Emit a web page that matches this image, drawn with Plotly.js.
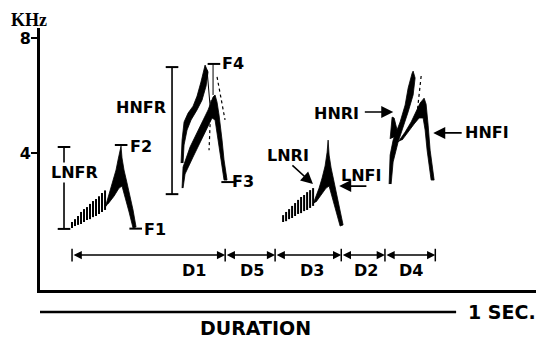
<!DOCTYPE html>
<html><head><meta charset="utf-8">
<script src="https://cdn.plot.ly/plotly-3.0.1.min.js"></script>
<style>html,body{margin:0;padding:0;background:#fff}#chart{width:536px;height:339px}</style>
</head><body><div id="chart"></div>
<script>
// time in ms, frequency in kHz
const yTickVals = [4, 8];
const yTickText = ['4', '8'];
const scaleBarT = [0, 1000];

// duration intervals
const durBounds = [77, 445, 565, 724, 829, 950];
const durNames = ['D1', 'D5', 'D3', 'D2', 'D4'];
const durLabelT = [371, 510, 654, 784, 892];
const durLevel = 0.45;
const durLabelF = -0.10;

// frequency range bars
const rangeNames = ['LNFR', 'HNFR'];
const rangeT = [57.7, 317.3];
const rangeLo = [1.36, 2.57];
const rangeHi = [4.21, 6.99];
const rangeLabelT = [84, 243];
const rangeLabelF = [3.34, 5.6];

// F markers
const fNames = ['F1', 'F2', 'F3', 'F4'];
const fCapT = [230, 195, 451, 418];
const fCapF = [1.37, 4.28, 2.99, 7.10];
const fLabelT = [245, 212, 457, 433];
const fLabelF = [1.33, 4.24, 3.00, 7.10];

// pointer labels
const ptrNames = ['LNRI', 'LNFI', 'HNRI', 'HNFI'];
const ptrLabelT = [596, 772, 713, 1074];
const ptrLabelF = [3.93, 3.23, 5.36, 4.70];
const ptrTailT = [603, 788, 777, 1017];
const ptrTailF = [3.62, 2.85, 5.43, 4.70];
const ptrTipT = [656, 719, 849, 945];
const ptrTipF = [2.92, 2.85, 5.43, 4.70];

// low-note striations (syllable 1 and 2)
const ln1StrokeT = [76.9, 84.1, 91.4, 98.6, 105.8, 113.0, 120.2, 127.4, 134.6, 141.8, 149.0, 156.3];
const ln1StrokeLo = [1.39, 1.46, 1.50, 1.53, 1.60, 1.67, 1.70, 1.77, 1.81, 1.88, 1.95, 2.02];
const ln1StrokeHi = [1.60, 1.70, 1.81, 1.95, 2.05, 2.12, 2.23, 2.33, 2.40, 2.50, 2.61, 2.70];
const ln2StrokeT = [584.2, 591.4, 598.6, 605.8, 613.0, 620.2, 627.4, 634.7, 641.9, 649.1, 656.3];
const ln2StrokeLo = [1.60, 1.63, 1.70, 1.74, 1.81, 1.88, 1.91, 1.98, 2.02, 2.09, 2.16];
const ln2StrokeHi = [1.84, 1.95, 2.05, 2.16, 2.26, 2.37, 2.47, 2.54, 2.64, 2.71, 2.78];

// solid sonogram outlines
const ln1T = [156.3, 161.1, 163.5, 170.7, 175.5, 182.7, 187.5, 192.3, 194.7, 197.1, 201.9, 209.1, 216.4, 223.6, 230.8, 223.6, 214.0, 204.3, 197.1, 189.9, 177.9, 163.5];
const ln1F = [2.09, 2.33, 2.50, 2.78, 3.06, 3.41, 3.76, 4.10, 4.24, 3.83, 3.41, 2.96, 2.50, 2.02, 1.43, 1.39, 1.95, 2.43, 2.85, 2.78, 2.50, 2.23];
const ln2T = [656.3, 663.5, 670.7, 677.9, 685.1, 690.0, 692.4, 694.8, 699.6, 706.8, 714.0, 721.2, 728.4, 721.2, 711.6, 702.0, 694.8, 687.5, 673.1, 663.5];
const ln2F = [2.23, 2.50, 2.78, 3.13, 3.55, 4.03, 4.45, 3.93, 3.48, 2.99, 2.50, 2.02, 1.50, 1.46, 1.95, 2.43, 2.85, 2.78, 2.50, 2.30];
const hn1aT = [339.0, 341.4, 346.2, 355.8, 367.8, 377.4, 386.8, 396.7, 403.9, 399.1, 389.4, 377.4, 363.0, 353.4, 346.2, 343.8];
const hn1aF = [3.65, 4.45, 5.08, 5.39, 5.63, 5.98, 6.47, 7.06, 6.82, 6.33, 5.84, 5.50, 5.15, 4.80, 4.28, 3.65];
const hn1bT = [341.4, 343.8, 360.6, 384.6, 403.9, 415.9, 420.7, 425.5, 430.3, 437.5, 442.3, 449.5, 442.3, 435.1, 427.9, 420.7, 413.5, 408.7, 391.9, 367.8, 348.6, 343.8];
const hn1bF = [2.78, 3.51, 4.21, 4.90, 5.50, 5.95, 6.02, 5.77, 5.32, 4.45, 3.76, 3.06, 3.06, 3.76, 4.45, 5.15, 5.22, 5.08, 4.56, 3.86, 3.27, 2.78];
const hn2aT = [839.0, 841.4, 848.6, 865.4, 877.5, 884.7, 894.3, 896.7, 901.5, 896.7, 884.7, 872.7, 860.6, 848.6, 843.8];
const hn2aF = [2.92, 3.93, 4.45, 5.08, 5.67, 6.26, 6.78, 6.85, 6.61, 6.02, 5.43, 4.87, 4.38, 3.69, 2.92];
const hn2sT = [841.4, 846.2, 851.0, 858.2, 853.4];
const hn2sF = [4.49, 5.25, 5.22, 4.80, 4.56];
const hn2bT = [860.6, 877.5, 891.9, 903.9, 913.5, 923.1, 927.9, 932.8, 937.6, 947.2, 940.0, 930.3, 925.5, 920.7, 911.1, 899.1, 884.7, 870.2];
const hn2bF = [4.38, 4.73, 5.08, 5.43, 5.74, 5.91, 5.70, 4.97, 4.10, 3.06, 3.06, 4.10, 4.80, 5.22, 5.22, 5.01, 4.73, 4.45];

// thin and dotted traces
const thinT = [401.5, 411.1, null, 415.9, 415.9];
const thinF = [6.89, 5.22, null, 7.10, 6.02];
const dotT = [411.1, 406.3, null, 425.5, 444.7, null, 916.0, 903.9];
const dotF = [5.84, 4.10, null, 6.65, 5.15, null, 6.68, 5.08];

const FONT = 'DejaVu Sans, Arial, sans-serif';
const traces = [];
const blk = '#000';

function strokes(T, lo, hi) {
  const x = [], y = [];
  T.forEach((t, i) => { x.push(t, t, null); y.push(lo[i], hi[i], null); });
  return {type: 'scatter', mode: 'lines', x, y, line: {color: blk, width: 2}, hoverinfo: 'skip'};
}
traces.push(strokes(ln1StrokeT, ln1StrokeLo, ln1StrokeHi));
traces.push(strokes(ln2StrokeT, ln2StrokeLo, ln2StrokeHi));
[[ln1T, ln1F], [ln2T, ln2F], [hn1aT, hn1aF], [hn1bT, hn1bF], [hn2aT, hn2aF], [hn2sT, hn2sF], [hn2bT, hn2bF]].forEach(([T, F]) => {
  traces.push({type: 'scatter', mode: 'lines', x: T, y: F, fill: 'toself', fillcolor: blk,
    line: {color: blk, width: 0.8}, hoverinfo: 'skip'});
});
traces.push({type: 'scatter', mode: 'lines', x: thinT, y: thinF, line: {color: blk, width: 1}, hoverinfo: 'skip'});
traces.push({type: 'scatter', mode: 'lines', x: dotT, y: dotF, line: {color: blk, width: 1.2, dash: 'dot'}, hoverinfo: 'skip'});

// range bars
rangeT.forEach((t, i) => {
  traces.push({type: 'scatter', mode: 'lines+markers', x: [t, t], y: [rangeLo[i], rangeHi[i]],
    line: {color: blk, width: 1.6},
    marker: {symbol: 'line-ew', size: 9, line: {color: blk, width: 2}}, hoverinfo: 'skip'});
});
// F caps
traces.push({type: 'scatter', mode: 'markers', x: fCapT, y: fCapF,
  marker: {symbol: 'line-ew', size: 9, line: {color: blk, width: 2}}, hoverinfo: 'skip'});
// duration boundary ticks
traces.push({type: 'scatter', mode: 'markers', x: durBounds, y: durBounds.map(() => durLevel),
  marker: {symbol: 'line-ns', size: 9, line: {color: blk, width: 1.5}}, hoverinfo: 'skip'});

const ann = [];
const lblFont = {family: FONT, size: 16, color: blk, weight: 'bold'};
rangeNames.forEach((n, i) => ann.push({x: rangeLabelT[i], y: rangeLabelF[i], text: n, showarrow: false,
  font: lblFont, xanchor: 'center', yanchor: 'middle', bgcolor: '#fff', borderpad: 0}));
fNames.forEach((n, i) => ann.push({x: fLabelT[i], y: fLabelF[i], text: n, showarrow: false,
  font: lblFont, xanchor: 'left', yanchor: 'middle'}));
ptrNames.forEach((n, i) => {
  ann.push({x: ptrLabelT[i], y: ptrLabelF[i], text: n, showarrow: false, font: lblFont,
    xanchor: 'center', yanchor: 'middle'});
  ann.push({x: ptrTipT[i], y: ptrTipF[i], ax: ptrTailT[i], ay: ptrTailF[i], axref: 'x', ayref: 'y',
    text: '', showarrow: true, arrowhead: 2, arrowsize: 1.5, arrowwidth: 1.6, arrowcolor: blk, standoff: 0});
});
durNames.forEach((n, i) => {
  ann.push({x: durBounds[i + 1], y: durLevel, ax: durBounds[i], ay: durLevel, axref: 'x', ayref: 'y',
    text: '', showarrow: true, arrowside: 'end+start', arrowhead: 2, startarrowhead: 2,
    arrowsize: 1.1, startarrowsize: 1.1, arrowwidth: 1.5, arrowcolor: blk, standoff: 0, startstandoff: 0});
  ann.push({x: durLabelT[i], y: durLabelF, text: n, showarrow: false, font: lblFont,
    xanchor: 'center', yanchor: 'middle'});
});
ann.push({xref: 'paper', yref: 'paper', x: -0.022, y: 1.03, text: 'KHz', showarrow: false,
  font: {family: 'Liberation Serif, Times New Roman, serif', size: 18, color: blk, weight: 'bold'},
  xanchor: 'center', yanchor: 'middle'});
ann.push({xref: 'paper', yref: 'paper', x: 0.859, y: -0.084, text: '1 SEC.', showarrow: false,
  font: {family: FONT, size: 19, color: blk, weight: 'bold'}, xanchor: 'left', yanchor: 'middle'});
ann.push({xref: 'paper', yref: 'paper', x: 0.4335, y: -0.145, text: 'DURATION', showarrow: false,
  font: {family: FONT, size: 19, color: blk, weight: 'bold'}, xanchor: 'center', yanchor: 'middle'});

const layout = {
  width: 536, height: 339,
  margin: {l: 40, r: 0, t: 28, b: 49, pad: 0},
  paper_bgcolor: '#fff', plot_bgcolor: '#fff',
  showlegend: false,
  xaxis: {range: [0, 1192], showgrid: false, zeroline: false, showticklabels: false, ticks: '',
    showline: true, linewidth: 3, linecolor: blk, fixedrange: true},
  yaxis: {range: [-0.765, 8.35], showgrid: false, zeroline: false, tickvals: yTickVals, ticktext: yTickText,
    ticks: 'outside', ticklen: 6, tickwidth: 2, tickcolor: blk, ticklabelstandoff: -3,
    tickfont: {family: FONT, size: 16, color: blk, weight: 'bold'},
    showline: true, linewidth: 3, linecolor: blk, fixedrange: true},
  shapes: [{type: 'line', xref: 'x', yref: 'paper', x0: scaleBarT[0], x1: scaleBarT[1], y0: -0.084, y1: -0.084,
    line: {color: blk, width: 2.5}}],
  annotations: ann
};
Plotly.newPlot('chart', traces, layout, {staticPlot: true, displayModeBar: false});
</script></body></html>
